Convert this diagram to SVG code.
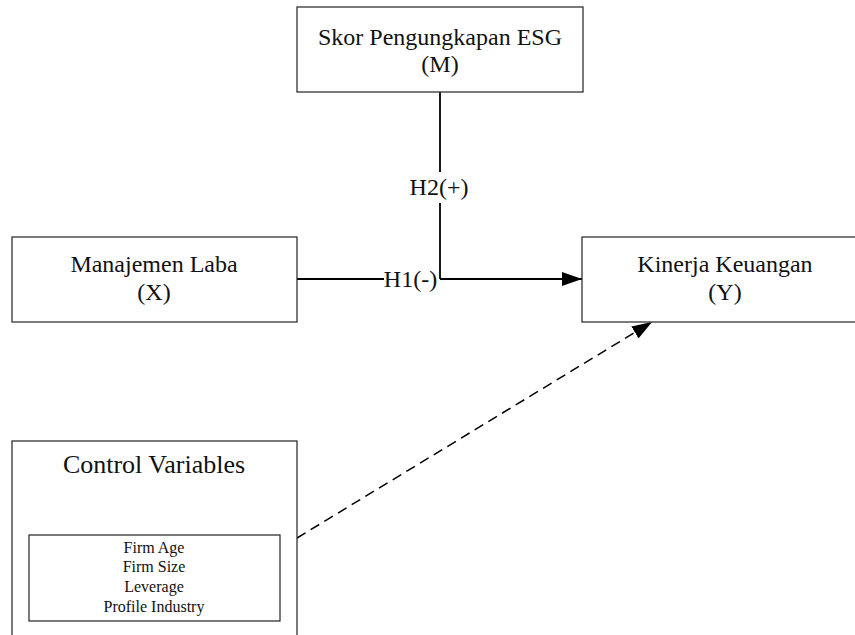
<svg xmlns="http://www.w3.org/2000/svg" width="855" height="635" viewBox="0 0 855 635">
<defs>
<style>
.box{fill:#fff;stroke:#222;stroke-width:1.2}
.t{font-family:"Liberation Serif","Times New Roman",serif;fill:#111;text-anchor:middle}
.big{font-size:24px}
.small{font-size:16px}
.conn{stroke:#000;stroke-width:1.8;fill:none}
.dash{stroke:#000;stroke-width:1.5;fill:none;stroke-dasharray:10 6}
</style>
<marker id="arr" viewBox="0 0 20 14" refX="20" refY="7" markerWidth="20" markerHeight="14" markerUnits="userSpaceOnUse" orient="auto">
<path d="M0,0 L20,7 L0,14 Z" fill="#000"/>
</marker>
</defs>
<rect width="855" height="635" fill="#fff"/>
<g id="connectors">
<line class="conn" x1="440" y1="92" x2="440" y2="172"/>
<line class="conn" x1="440" y1="203" x2="440" y2="279"/>
<line class="conn" x1="297" y1="279" x2="384" y2="279"/>
<line class="conn" x1="440" y1="279" x2="582" y2="279" marker-end="url(#arr)"/>
<line class="dash" x1="297" y1="538" x2="652" y2="322" marker-end="url(#arr)"/>
<text class="t big" x="439" y="195">H2(+)</text>
<text class="t big" x="410.5" y="287">H1(-)</text>
</g>
<g id="node-esg">
<rect class="box" x="297" y="7" width="286" height="85"/>
<text class="t big" x="440" y="45">Skor Pengungkapan ESG</text>
<text class="t big" x="440" y="72">(M)</text>
</g>
<g id="node-x">
<rect class="box" x="12" y="237" width="285" height="85"/>
<text class="t big" x="154" y="272">Manajemen Laba</text>
<text class="t big" x="154" y="300">(X)</text>
</g>
<g id="node-y">
<rect class="box" x="582" y="237" width="290" height="85"/>
<text class="t big" x="725" y="272">Kinerja Keuangan</text>
<text class="t big" x="725" y="300">(Y)</text>
</g>
<g id="node-control">
<rect class="box" x="12" y="441" width="285" height="210"/>
<text class="t" style="font-size:26px" x="154" y="473">Control Variables</text>
<rect class="box" x="29" y="535" width="251" height="86"/>
<text class="t small" x="154" y="553">Firm Age</text>
<text class="t small" x="154" y="572">Firm Size</text>
<text class="t small" x="154" y="592">Leverage</text>
<text class="t small" x="154" y="612">Profile Industry</text>
</g>
</svg>
